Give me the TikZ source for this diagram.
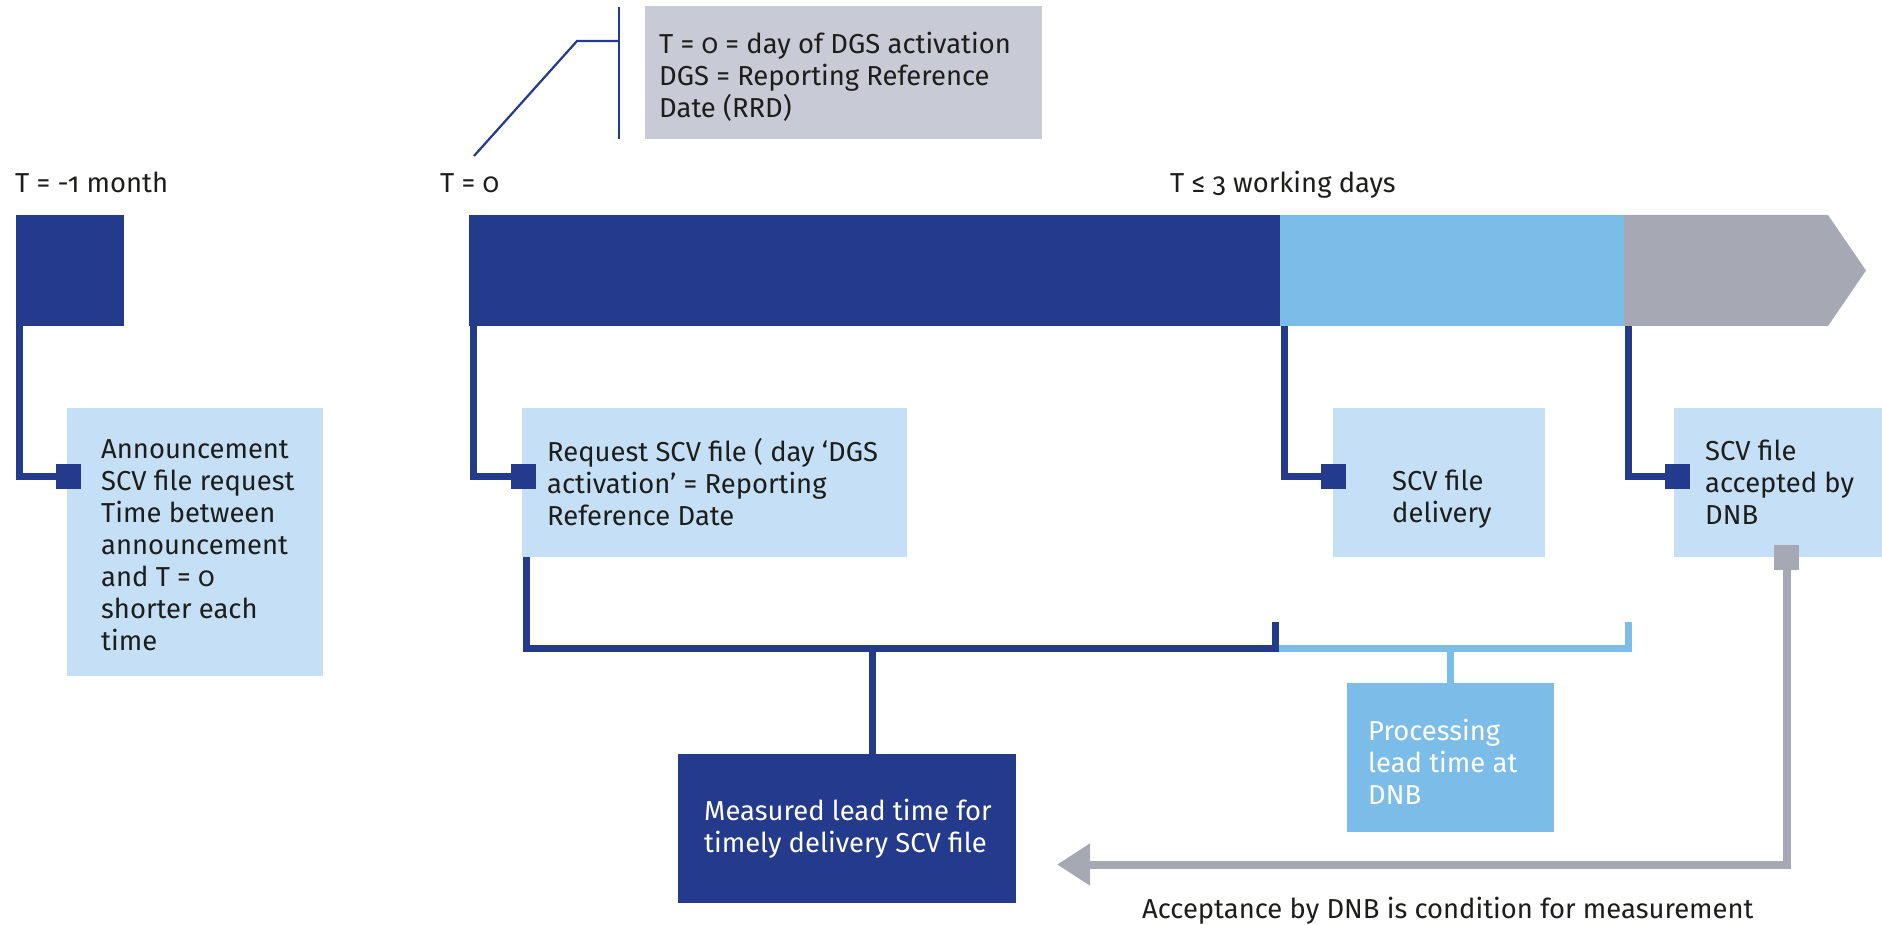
\documentclass[tikz,border=0pt]{standalone}
\usepackage{fontspec}
\setmainfont{Fira Sans}[Numbers=OldStyle]
\usetikzlibrary{arrows.meta,calc,backgrounds}
\definecolor{dnbdark}{HTML}{243A8D}
\definecolor{dnblight}{HTML}{7BBDE8}
\definecolor{pale}{HTML}{C5E0F6}
\definecolor{arrowgray}{HTML}{A6A8B4}
\definecolor{notegray}{HTML}{C8CAD6}
\definecolor{ink}{HTML}{1D1D1B}
\newcommand{\fsz}{\fontsize{27.4pt}{32pt}\selectfont}
\begin{document}
\begin{tikzpicture}[x=1pt,y=-1pt,
  conn/.style={line width=7pt, draw=dnbdark, line join=miter},
  lconn/.style={line width=7pt, draw=dnblight, line join=miter},
  box/.style={fill=#1, inner sep=0pt, outer sep=0pt, anchor=north west, draw=none},
  txt/.style={inner sep=0pt, align=left, anchor=west, text=ink, font=\fsz},
  lbl/.style={inner sep=0pt, anchor=base west, text=ink, font=\fsz},
  sq/.style={fill=dnbdark, minimum size=25pt, inner sep=0pt, outer sep=0pt},
  thinl/.style={line width=2.2pt, draw=dnbdark}]
\useasboundingbox (0,0) rectangle (1882,925);

% timeline bars
\node[box=dnbdark, minimum width=108pt, minimum height=111pt] (bar0) at (16,215) {};
\node[box=dnbdark, minimum width=811pt, minimum height=111pt] (bar1) at (469,215) {};
\node[box=dnblight, minimum width=345pt, minimum height=111pt] (bar2) at (1280,215) {};
\node[box=none, minimum width=204pt, minimum height=111pt] (bar3) at (1624,215) {};
\fill[arrowgray] (bar3.north west) -- (bar3.north east) -- ($(bar3.east)+(38,0)$) -- (bar3.south east) -- (bar3.south west) -- cycle;

% time labels
\node[lbl] (lm1) at (15,193) {T = -1 month};
\node[lbl] (l0) at (440,193) {T = 0};
\node[lbl] (l3) at (1170,193) {T ≤ 3 working days};

% callout note
\node[box=notegray, minimum width=397pt, minimum height=133pt] (note) at (645,6) {};
\node[txt] (notet) at ($(note.west)+(14,4)$) {T = 0 = day of DGS activation\\DGS = Reporting Reference\\Date (RRD)};
\coordinate (ld0) at (474,156);
\coordinate (ld1) at (577,41);
\coordinate (ld2) at (619,41);
\coordinate (lv1) at (619,7);
\coordinate (lv2) at (619,139);
\draw[thinl] (ld0) -- (ld1) -- (ld2);
\draw[thinl] (lv1) -- (lv2);

% boxes
\node[box=pale, minimum width=256pt, minimum height=268pt] (ann) at (67,408) {};
\node[txt] (annt) at ($(ann.west)+(34,3)$) {Announcement\\SCV file request\\Time between\\announcement\\and T = 0\\shorter each\\time};
\node[box=pale, minimum width=385pt, minimum height=149pt] (req) at (522,408) {};
\node[txt] (reqt) at ($(req.west)+(25,0)$) {Request SCV file ( day ‘DGS\\activation’ = Reporting\\Reference Date};
\node[box=pale, minimum width=212pt, minimum height=149pt] (del) at (1333,408) {};
\node[txt] (delt) at ($(del.west)+(59,17)$) {SCV file\\delivery};
\node[box=pale, minimum width=208pt, minimum height=149pt] (acc) at (1674,408) {};
\node[txt] (acct) at ($(acc.west)+(31,0)$) {SCV file\\accepted by\\DNB};
\node[box=dnblight, minimum width=207pt, minimum height=149pt] (proc) at (1347,683) {};
\node[txt, text=white] (proct) at ($(proc.west)+(21,4)$) {Processing\\lead time at\\DNB};
\node[box=dnbdark, minimum width=338pt, minimum height=149pt] (meas) at (678,754) {};
\node[txt, text=white] (meast) at ($(meas.west)+(26,0)$) {Measured lead time for\\timely delivery SCV file};

% squares
\node[sq] (sq0) at (68.5,476.5) {};
\node[sq] (sq1) at (523,476.5) {};
\node[sq] (sq2) at (1333.5,476.5) {};
\node[sq] (sq3) at (1677.5,476.5) {};
\node[sq, fill=arrowgray] (gsq) at (1786.5,557) {};

% bracket coordinates
\coordinate (bkmid) at (1279,648);
\coordinate (bk0) at (1275.5,648);
\coordinate (bk0t) at (1275.5,622);
\coordinate (bk1) at (1628.5,648);
\coordinate (bk1t) at (1628.5,622);
\coordinate (mst) at (872.5,648);
\coordinate (pst) at (1450,648);
\coordinate (atip) at (1057,864.5);

\node[lbl] (acctxt) at (1142,918) {Acceptance by DNB is condition for measurement};

\begin{scope}[on background layer]
\draw[conn] ([xshift=3.5pt]bar0.south west) |- (sq0);
\draw[conn] ([xshift=4pt]bar1.south west) |- (sq1);
\draw[conn] ([xshift=4pt]bar2.south west) |- (sq2);
\draw[conn] ([xshift=4pt]bar3.south west) |- (sq3);
\draw[lconn] (bkmid) -- (bk1) -- (bk1t);
\draw[conn] ([xshift=4pt]req.south west) |- (bk0) -- (bk0t);
\draw[conn] (mst) -- (mst |- meas.north);
\draw[lconn] (pst) -- (pst |- proc.north);
\draw[line width=8pt, draw=arrowgray, line join=miter, -{Triangle[length=33pt,width=40pt]}] (gsq.center) |- (atip);
\end{scope}
\end{tikzpicture}
\end{document}
